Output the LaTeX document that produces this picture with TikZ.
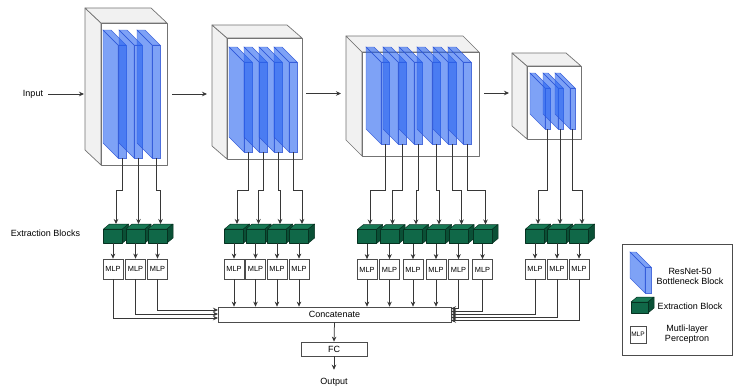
\documentclass[tikz,border=0pt]{standalone}
\usepackage{fontspec}
\setmainfont{Liberation Sans}
\usetikzlibrary{arrows.meta,calc}
\definecolor{slabfill}{RGB}{40,100,240}
\definecolor{slabedge}{RGB}{45,85,215}
\definecolor{gfront}{RGB}{16,104,72}
\definecolor{gside}{RGB}{10,80,54}
\definecolor{gtop}{RGB}{24,120,84}
\definecolor{gline}{RGB}{6,50,33}
\definecolor{boxline}{RGB}{115,115,115}
\definecolor{boxside}{RGB}{241,241,241}
\definecolor{conn}{RGB}{55,55,55}
\tikzset{
  boxstyle/.style={draw=boxline, line width=0.7pt, line join=round},
  slabst/.style={fill=slabfill, fill opacity=0.6, draw=slabedge, draw opacity=0.85, line width=0.45pt},
  gst/.style={draw=gline, line width=0.5pt, line join=round},
  mlp/.style={draw=black!70, fill=white, line width=0.7pt, minimum width=20pt, minimum height=20pt, inner sep=0pt, font=\fontsize{7.4}{8}\selectfont},
  lbl/.style={font=\fontsize{9}{10}\selectfont, inner sep=0pt},
  arr/.style={draw=conn, line width=0.75pt, -{Stealth[length=5pt,width=4.5pt]}},
  plainbox/.style={draw=black!70, fill=white, line width=0.7pt, inner sep=0pt, font=\fontsize{9}{10}\selectfont}
}
\newcommand\cuboid[6]{%
  \filldraw[boxstyle, fill=boxside] (#1,#2) -- ({#1-#5},{#2-#6}) -- ({#1-#5},{#4-#6}) -- (#1,#4) -- cycle;
  \filldraw[boxstyle, fill=boxside] (#1,#2) -- ({#1-#5},{#2-#6}) -- ({#3-#5},{#2-#6}) -- (#3,#2) -- cycle;
  \filldraw[boxstyle, fill=white] (#1,#2) rectangle (#3,#4);
}
\newcommand\slab[5]{%
  \filldraw[slabst] (#1,#2) -- ({#1-#5},{#2-#5}) -- ({#1-#5},{#2+#4-#5}) -- (#1,{#2+#4}) -- cycle;
  \filldraw[slabst] (#1,#2) -- ({#1-#5},{#2-#5}) -- ({#1+#3-#5},{#2-#5}) -- ({#1+#3},#2) -- cycle;
  \filldraw[slabst] (#1,#2) rectangle ({#1+#3},{#2+#4});
}
\newcommand\gcube[5]{%
  \filldraw[gst, fill=gtop] ({#1-#3/2},#2) -- ({#1-#3/2+6},{#2-5}) -- ({#1+#3/2+6},{#2-5}) -- ({#1+#3/2},#2) -- cycle;
  \filldraw[gst, fill=gside] ({#1+#3/2},#2) -- ({#1+#3/2+6},{#2-5}) -- ({#1+#3/2+6},{#2+#4-5}) -- ({#1+#3/2},{#2+#4}) -- cycle;
  \filldraw[gst, fill=gfront] ({#1-#3/2},#2) rectangle ({#1+#3/2},{#2+#4});
  \coordinate (#5-t) at ({#1+3},{#2-5});
  \coordinate (#5-b) at (#1,{#2+#4});
}
\begin{document}
\begin{tikzpicture}[x=1pt,y=-1pt]
\useasboundingbox (0,0) rectangle (733,386);
\fill[white] (0,0) rectangle (733,386);

% stage cuboids
\cuboid{101}{23}{167}{165}{16}{15}
\cuboid{227}{38}{302}{159}{15}{13}
\cuboid{362}{52}{479}{156}{16}{16}
\cuboid{527}{66}{581}{139}{15}{13}

% input and inter-stage arrows
\node[lbl, inner xsep=5pt] (input) at (33,94) {Input};
\coordinate (b1w) at (84,94);
\coordinate (b1e) at (172,94);
\coordinate (b2w) at (207,94);
\coordinate (b2e) at (306,93.5);
\coordinate (b3w) at (341,93.5);
\coordinate (b3e) at (484,93);
\coordinate (b4w) at (509,93);
\draw[arr] (input.east) -- (b1w);
\draw[arr] (b1e) -- (b2w);
\draw[arr] (b2e) -- (b3w);
\draw[arr] (b3e) -- (b4w);

\coordinate (jog) at (0,190);

% stage 1
\foreach \fx/\cx [count=\i] in {118/113,134/135.5,152/157.5}{
  \slab{\fx}{45}{8}{113}{15}
  \coordinate (sA\i) at ({\fx+4},158);
  \gcube{\cx}{229}{19}{14}{cA\i}
  \node[mlp] (mA\i) at (\cx,269) {MLP};
}
% stage 2
\foreach \fx/\cx [count=\i] in {244/234,259/255.5,274/277,289/299}{
  \slab{\fx}{62}{8}{90}{15}
  \coordinate (sB\i) at ({\fx+4},152);
  \gcube{\cx}{229}{19}{14}{cB\i}
  \node[mlp] (mB\i) at (\cx,269) {MLP};
}
% stage 3
\foreach \fx/\cx [count=\i] in {381/367,398/389.5,414/413,432/436,448/458.5,463/482.5}{
  \slab{\fx}{62}{8}{82}{15}
  \coordinate (sC\i) at ({\fx+4},144);
  \gcube{\cx}{229.5}{19}{14}{cC\i}
  \node[mlp] (mC\i) at (\cx,269.5) {MLP};
}
% stage 4
\foreach \fx/\cx [count=\i] in {545/535,558/557,570/579}{
  \slab{\fx}{88}{5}{41}{15}
  \coordinate (sD\i) at ({\fx+2.5},129);
  \gcube{\cx}{229}{19}{14}{cD\i}
  \node[mlp] (mD\i) at (\cx,269) {MLP};
}

% slab -> extraction block -> MLP
\foreach \s/\n in {A/3,B/4,C/6,D/3}{
  \foreach \i in {1,...,\n}{
    \draw[arr] (s\s\i) -- (s\s\i |- jog) -| (c\s\i-t);
    \draw[arr] (c\s\i-b) -- (m\s\i.north);
  }
}

\node[lbl] at (45.5,233) {Extraction Blocks};

% concatenate, FC, output
\node[plainbox, minimum width=233pt, minimum height=15pt] (cc) at (334.5,314.5) {Concatenate};
\node[plainbox, minimum width=66pt, minimum height=14pt] (fc) at (334,349) {FC};
\node[lbl, inner ysep=8pt] (out) at (334,382) {Output};
\draw[arr] (cc.south) -- (fc.north);
\draw[arr] (fc.south) -- (out.north);

% left inputs
\coordinate (L1) at (218,318);
\coordinate (L2) at (218,314);
\coordinate (L3) at (218,310);
\draw[arr] (mA1.south) |- (L1);
\draw[arr] (mA2.south) |- (L2);
\draw[arr] (mA3.south) |- (L3);
% top inputs
\foreach \i in {1,...,4}{
  \draw[arr] (mB\i.south) -- (mB\i.south |- cc.north);
  \draw[arr] (mC\i.south) -- (mC\i.south |- cc.north);
}
% right inputs
\coordinate (R1) at (451,308.5);
\coordinate (R2) at (451,311.5);
\coordinate (R3) at (451,314.5);
\coordinate (R4) at (451,317.5);
\coordinate (R5) at (451,320.5);
\draw[arr] (mC5.south) |- (R1);
\draw[arr] (mC6.south) |- (R2);
\draw[arr] (mD1.south) |- (R3);
\draw[arr] (mD2.south) |- (R4);
\draw[arr] (mD3.south) |- (R5);

% legend
\draw[draw=black!70, line width=0.7pt] (622,244) rectangle (732.5,355);
\slab{645}{267}{6}{26}{15}
\node[lbl, align=center] (lg1) at (690,276.5) {ResNet-50\\Bottleneck Block};
\gcube{639.5}{302}{17}{11}{lgc}
\node[lbl] (lg2) at (690,306) {Extraction Block};
\node[mlp, minimum width=16pt, minimum height=17pt, font=\fontsize{6.5}{7}\selectfont] (lgm) at (638,334.5) {MLP};
\node[lbl, align=center] (lg3) at (687,334) {Mutli-layer\\Perceptron};
\end{tikzpicture}
\end{document}
